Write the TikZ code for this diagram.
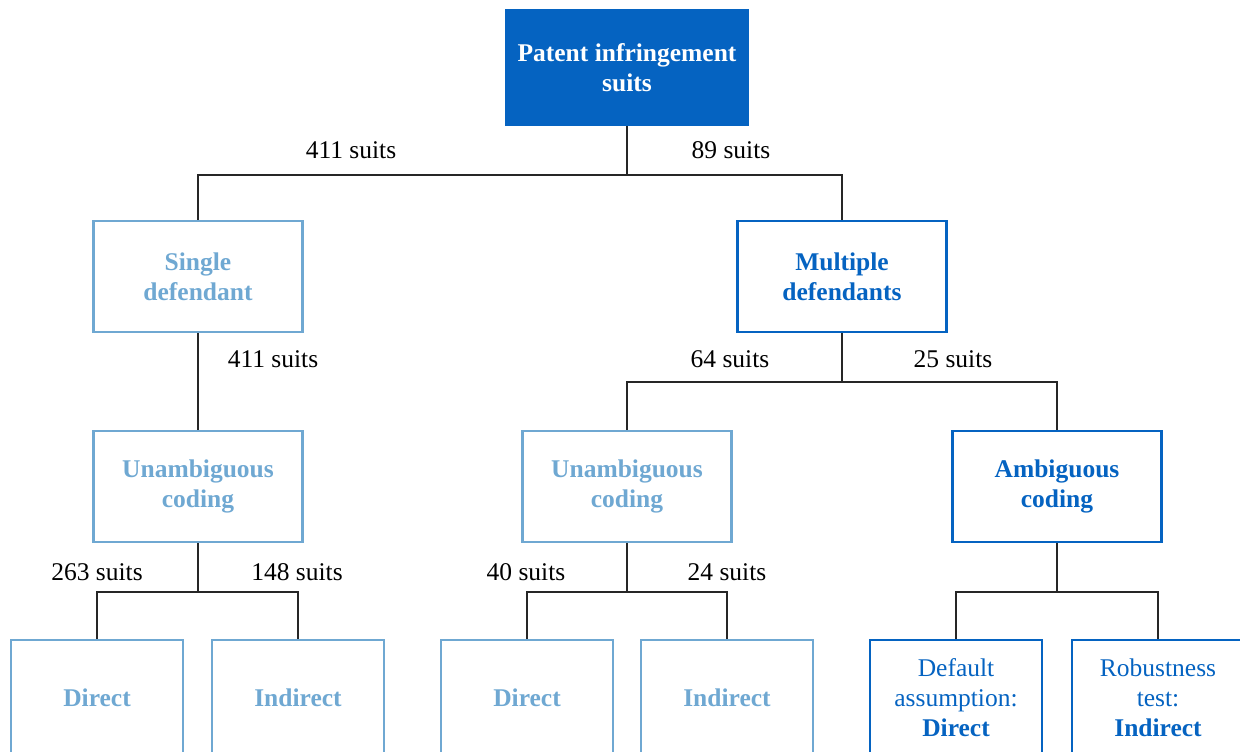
\documentclass[tikz,border=0pt]{standalone}
\usepackage{fontspec}
\setmainfont{Liberation Serif}
\definecolor{darkblue}{HTML}{0563C1}
\definecolor{lightblue}{HTML}{6FA8D2}
\definecolor{linegray}{HTML}{262626}
\begin{document}
\begin{tikzpicture}[x=1pt,y=-1pt,
  box/.style={rectangle, draw, line width=2.5pt, align=center, inner sep=0pt,
    font=\fontsize{25.5}{30}\selectfont\bfseries},
  mid/.style={box, minimum width=209pt, minimum height=111pt},
  low/.style={box, minimum width=172pt, minimum height=116pt},
  pale/.style={draw=lightblue, text=lightblue},
  deep/.style={draw=darkblue, text=darkblue},
  count/.style={font=\fontsize{25.5}{30}\selectfont, text=black, inner sep=0pt},
  link/.style={draw=linegray, line width=1.6pt}]
\useasboundingbox (0,0) rectangle (1240,752);
\clip (0,0) rectangle (1240,752);

% tree nodes
\node[box, fill=darkblue, draw=darkblue, text=white, minimum width=242pt, minimum height=115pt]
  (top) at (627,67.5) {Patent infringement\\suits};
\node[mid, pale] (single) at (198,276.5) {Single\\defendant};
\node[mid, deep] (multi) at (842,276.5) {Multiple\\defendants};
\node[mid, pale] (unA) at (198,486.5) {Unambiguous\\coding};
\node[mid, pale] (unB) at (627,486.5) {Unambiguous\\coding};
\node[mid, deep] (amb) at (1057,486.5) {Ambiguous\\coding};
\node[low, pale] (dirA) at (97,698) {Direct};
\node[low, pale] (indA) at (298,698) {Indirect};
\node[low, pale] (dirB) at (527,698) {Direct};
\node[low, pale] (indB) at (727,698) {Indirect};
\node[low, deep] (dflt) at (956,698) {\mdseries Default\\\mdseries assumption:\\Direct};
\node[low, deep] (robu) at (1158,698) {\mdseries Robustness\\\mdseries test:\\Indirect};

% branch counts
\node[count] (c1) at (351,150) {411 suits};
\node[count] (c2) at (731,150) {89 suits};
\node[count] (c3) at (273,359) {411 suits};
\node[count] (c4) at (730,359) {64 suits};
\node[count] (c5) at (953,359) {25 suits};
\node[count] (c6) at (97,572) {263 suits};
\node[count] (c7) at (297,572) {148 suits};
\node[count] (c8) at (526,572) {40 suits};
\node[count] (c9) at (727,572) {24 suits};

% connectors
\path[link] (top.south) -- ++(0,49) -| (single.north);
\path[link] (top.south) -- ++(0,49) -| (multi.north);
\path[link] (single.south) -- (unA.north);
\path[link] (multi.south) -- ++(0,49) -| (unB.north);
\path[link] (multi.south) -- ++(0,49) -| (amb.north);
\path[link] (unA.south) -- ++(0,49) -| (dirA.north);
\path[link] (unA.south) -- ++(0,49) -| (indA.north);
\path[link] (unB.south) -- ++(0,49) -| (dirB.north);
\path[link] (unB.south) -- ++(0,49) -| (indB.north);
\path[link] (amb.south) -- ++(0,49) -| (dflt.north);
\path[link] (amb.south) -- ++(0,49) -| (robu.north);
\end{tikzpicture}
\end{document}
